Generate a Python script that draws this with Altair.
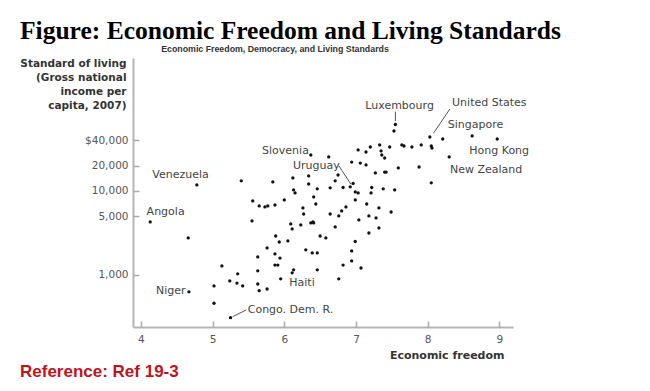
import altair as alt
import pandas as pd

# ---- data (economic freedom index, GNI per capita 2007) ----
freedom = [
    4.78, 4.13, 4.66, 4.67, 5.25,
    5.55, 5.02, 5.02, 5.13, 5.35, 5.24, 5.34, 5.42, 5.63, 5.76, 5.63, 5.63, 5.65, 5.76,
    5.88, 5.93, 6.05, 5.87, 5.94, 5.87, 5.91, 5.95, 6.09, 6.11, 6.23, 6.37, 6.40, 6.41,
    6.30, 6.39, 6.46, 6.46, 6.11, 6.13, 6.50, 6.58, 6.71, 6.99, 6.94, 6.94, 6.82, 7.07, 6.76,
    7.18, 7.32, 7.04, 7.18, 7.28, 7.49, 6.76, 6.64, 6.27, 6.80, 6.86,
    5.40, 5.56, 5.65, 5.73, 5.77, 5.87, 6.00, 5.84, 6.12, 6.34, 6.34, 6.13, 6.15, 6.46, 6.41, 6.44, 6.26,
    6.64, 6.71, 6.75, 6.82, 6.92, 6.96, 6.99, 7.03, 6.99, 7.15, 7.32, 7.22, 7.21, 7.38, 7.54,
    7.27, 7.40, 7.42, 7.59, 7.88, 8.05,
    6.37, 6.62, 6.94, 7.06, 7.14, 7.03, 7.14, 7.20, 7.33, 7.35, 7.47, 7.36, 7.40,
    7.55, 7.53, 7.64, 7.67, 7.78, 7.91, 8.03, 8.05, 8.06, 8.21, 8.62, 8.97, 8.30,
]
income = [
    11800, 4280, 2760, 630, 310,
    4400, 740, 460, 1280, 1030, 850, 800, 740, 1640, 2100, 1120, 780, 650, 680,
    2910, 2470, 2540, 1780, 1590, 1310, 1310, 900, 4050, 3530, 3940, 4160, 4280, 4160,
    1990, 1830, 1830, 1150, 1060, 1150, 2910, 2760, 3730, 2500, 1930, 1470, 1310, 1210, 900,
    3160, 3630, 4520, 5040, 4770, 5620, 5040, 5320, 5320, 5780, 6450,
    13200, 7610, 6630, 6450, 6630, 6810, 7820, 12800, 14300, 15100, 12100, 10300, 9470, 10600, 8490, 7000, 6280,
    10900, 13200, 15500, 11000, 11200, 12300, 9730, 9470, 7820, 7000, 6280, 11000, 9470, 10600, 10300,
    16400, 16800, 16800, 18800, 19300, 12500,
    26800, 25400, 22100, 21500, 20400, 30800, 29100, 33400, 35300, 30000, 33400, 26800, 24700,
    61900, 51800, 35300, 34300, 33400, 35300, 43900, 34300, 32500, 41600, 45200, 41600, 25400,
]

# country labels (anchor of the text, in data units)
label_names = ["Venezuela", "Angola", "Niger", "Congo. Dem. R.", "Haiti", "Slovenia",
               "Uruguay", "Luxembourg", "United States", "Singapore", "Hong Kong", "New Zealand"]
label_freedom = [4.16, 4.08, 4.21, 5.49, 6.07, 5.69, 6.12, 7.13, 8.34, 8.28, 8.58, 8.31]
label_income = [15500, 5660, 645, 383, 810, 29900, 20000, 103600, 110700, 61100, 29900, 17800]

# leader lines (from label to point)
leader_freedom = [7.55, 8.31, 6.76, 5.28]
leader_income = [88000, 94600, 20000, 319]
leader_freedom2 = [7.55, 8.08, 6.93, 5.47]
leader_income2 = [68000, 48600, 12000, 383]

x_ticks = [4, 5, 6, 7, 8, 9]
y_ticks = [1000, 5000, 10000, 20000, 40000]
y_title = ["Standard of living", "(Gross national", "income per", "capita, 2007)"]

W, H = 380, 269
SANS = "DejaVu Sans"

pts = pd.DataFrame({"freedom": freedom, "income": income})
labs = pd.DataFrame({"name": label_names, "freedom": label_freedom, "income": label_income})
leads = pd.DataFrame({"freedom": leader_freedom, "income": leader_income,
                      "freedom2": leader_freedom2, "income2": leader_income2})

xscale = alt.Scale(domain=[3.89, 9.19], nice=False, zero=False)
yscale = alt.Scale(type="log", domain=[240, 383000], nice=False)

points = alt.Chart(pts).mark_circle(size=11, color="#111111", opacity=1).encode(
    x=alt.X("freedom:Q", scale=xscale, axis=alt.Axis(
        values=x_ticks, ticks=False, tickSize=0, grid=False,
        domainColor="#b5b5b5", domainWidth=2,
        labelFont=SANS, labelFontSize=10.5, labelColor="#555555", labelPadding=7,
        title="Economic freedom", titleFont=SANS, titleFontSize=11, titleFontWeight="bold",
        titleColor="#333333", titleAlign="right", titleBaseline="middle",
        titleX=371, titleY=28, titleAnchor="end")),
    y=alt.Y("income:Q", scale=yscale, axis=alt.Axis(
        values=y_ticks, ticks=False, tickSize=0, grid=False,
        domainColor="#b5b5b5", domainWidth=2,
        labelFont=SANS, labelFontSize=10.5, labelColor="#555555", labelPadding=5,
        labelExpr="datum.value == 40000 ? '$40,000' : format(datum.value, ',')",
        title=y_title, titleFont=SANS, titleFontSize=10.5, titleFontWeight="bold",
        titleColor="#333333", titleAngle=0, titleAlign="right", titleBaseline="top",
        titleX=-7, titleY=0, titleLineHeight=14)),
)

labels = alt.Chart(labs).mark_text(
    align="left", baseline="middle", font=SANS, fontSize=11, color="#444444"
).encode(
    x=alt.X("freedom:Q", scale=xscale, axis=alt.Axis(
        orient="top", offset=-H, values=x_ticks, labels=False, domain=False, grid=False,
        ticks=True, tickSize=6, tickColor="#aaaaaa", tickWidth=1.5, title=None)),
    y=alt.Y("income:Q", scale=yscale, axis=alt.Axis(
        orient="right", offset=-W, values=y_ticks, labels=False, domain=False, grid=False,
        ticks=True, tickSize=6, tickColor="#aaaaaa", tickWidth=1.5, title=None)),
    text="name:N",
)

leaders = alt.Chart(leads).mark_rule(color="#555555", strokeWidth=1).encode(
    x=alt.X("freedom:Q", scale=xscale, axis=None),
    y=alt.Y("income:Q", scale=yscale, axis=None),
    x2="freedom2:Q",
    y2="income2:Q",
)

subtitle = alt.Chart(pd.DataFrame({"t": ["Economic Freedom, Democracy, and Living Standards"]})).mark_text(
    align="center", baseline="middle", font="Liberation Sans",
    fontSize=8.8, fontWeight="bold", color="#333333"
).encode(x=alt.value(142), y=alt.value(-9), text="t:N")

reference = alt.Chart(pd.DataFrame({"t": ["Reference: Ref 19-3"]})).mark_text(
    align="left", baseline="alphabetic", font="Liberation Sans", fontSize=17, fontWeight="bold",
    color="#c0141c"
).encode(x=alt.value(-113), y=alt.value(319), text="t:N")

chart = alt.layer(points, labels, leaders, subtitle, reference).resolve_axis(
    x="independent", y="independent"
).properties(
    width=W, height=H,
    title=alt.TitleParams(
        text="Figure: Economic Freedom and Living Standards",
        anchor="start", frame="group", dx=-113, dy=15, offset=16,
        font="Liberation Serif", fontSize=25.5, fontWeight="bold", color="#000000",
    ),
    padding={"left": 125, "top": 50, "right": 120, "bottom": 60},
    autosize=alt.AutoSizeParams(type="none"),
).configure_view(stroke=None)

chart.save("out.html", embed_options={"renderer": "svg", "actions": False})
